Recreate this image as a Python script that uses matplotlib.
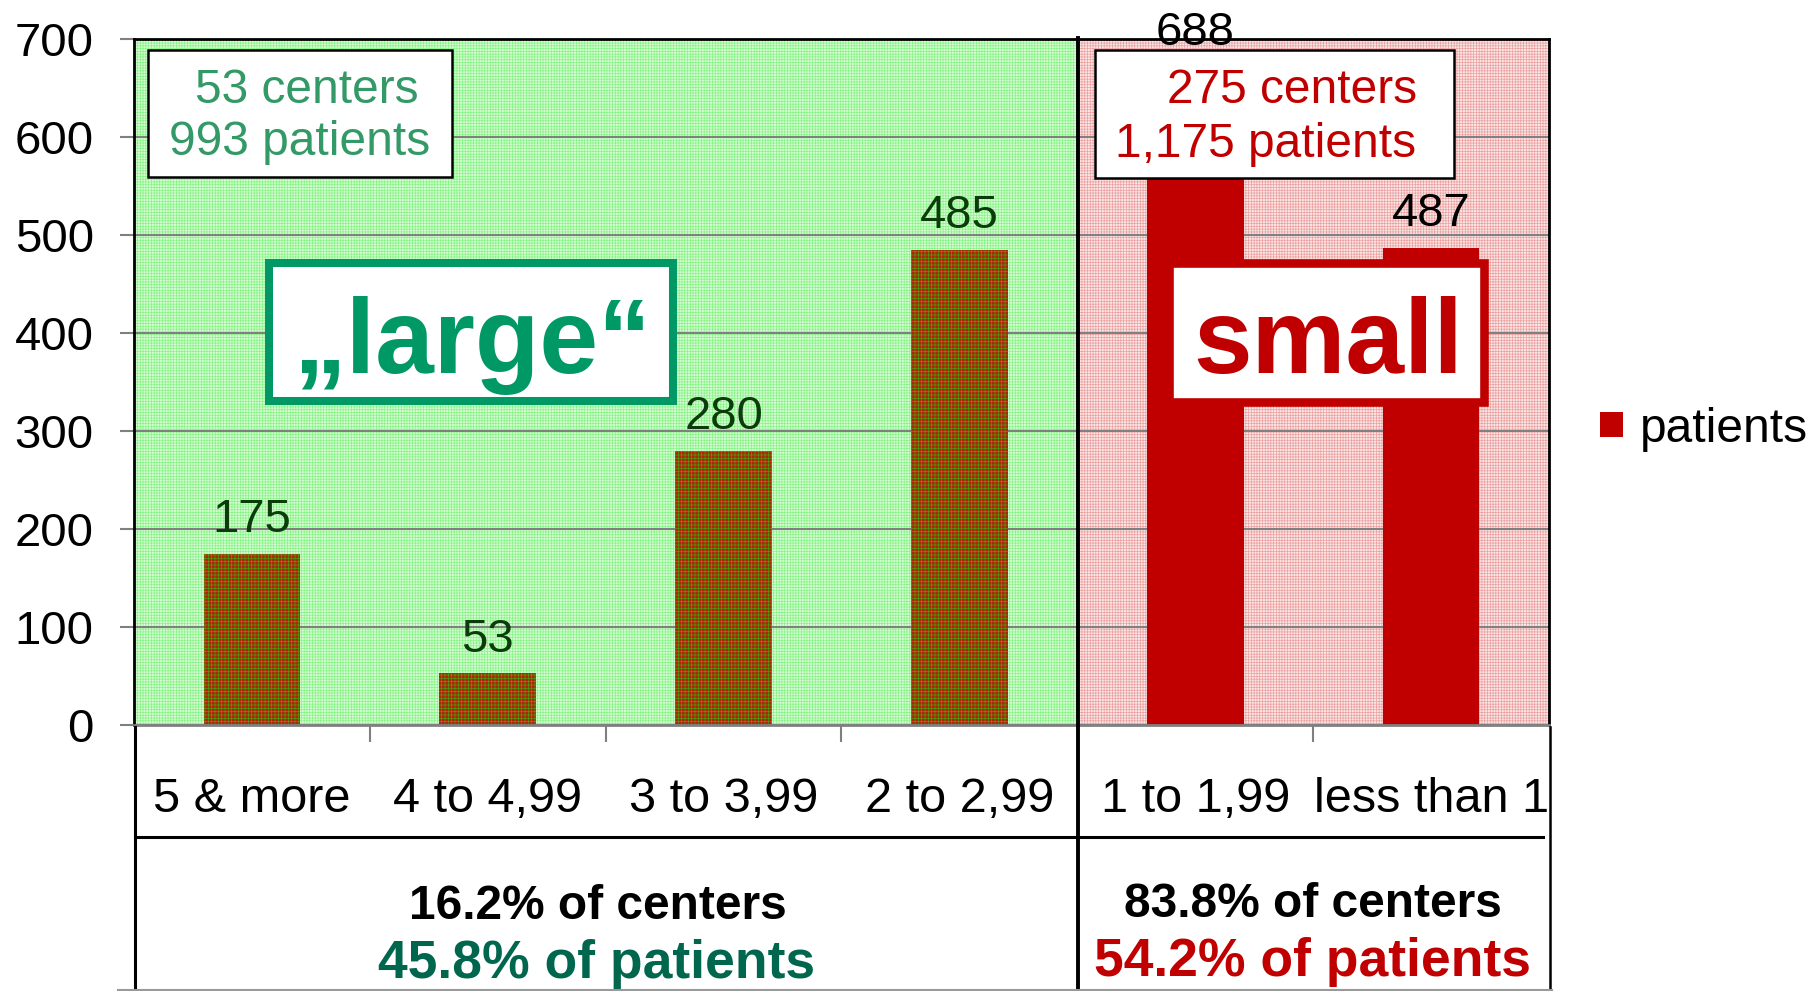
import matplotlib
matplotlib.use("Agg")
import matplotlib.pyplot as plt
from matplotlib.patches import Rectangle
from matplotlib.lines import Line2D
from matplotlib.transforms import blended_transform_factory

plt.rcParams["font.family"] = ["Liberation Sans", "DejaVu Sans"]
plt.rcParams["hatch.linewidth"] = 0.5

# data
categories = ["5 & more", "4 to 4,99", "3 to 3,99", "2 to 2,99", "1 to 1,99", "less than 1"]
patients = [175, 53, 280, 485, 688, 487]
large_info = ["53 centers", "993 patients"]
small_info = ["275 centers", "1,175 patients"]
large_share = ["16.2% of centers", "45.8% of patients"]
small_share = ["83.8% of centers", "54.2% of patients"]
n_large = 4

W, H = 1809, 991
GREEN_TXT = "#339966"
TEAL = "#009966"
RED = "#C00000"


def fx(x):
    return x / W


def fy(y):
    return 1 - y / H


fig = plt.figure(figsize=(W / 100, H / 100), dpi=100)
ax = fig.add_axes([fx(134), fy(725), (1549 - 134) / W, (725 - 39) / H])

# background regions
ax.axvspan(-0.5, n_large - 0.5, facecolor="#d6fdd2", edgecolor="#86f386",
           hatch="++++++", linewidth=0, zorder=0.1)
ax.axvspan(n_large - 0.5, len(categories) - 0.5, facecolor="#fbe6e6",
           edgecolor="#eca0a0", hatch="++++++", linewidth=0, zorder=0.1)

for i, v in enumerate(patients):
    if i < n_large:
        ax.bar(i, v, width=0.41, facecolor="#b22408", edgecolor="#4a9a0a",
               hatch="+++++", linewidth=0, zorder=2)
    else:
        ax.bar(i, v, width=0.41, color=RED, linewidth=0, zorder=2)
    ytxt = min(v + 22, 694)
    ax.text(i, ytxt, str(v), ha="center", va="baseline", fontsize=34,
            color="#0b3d0b" if i < n_large else "black", zorder=5, clip_on=False)

ax.set_xlim(-0.5, len(categories) - 0.5)
ax.set_ylim(0, 700)
ax.set_yticks(range(0, 701, 100))
ax.yaxis.grid(True, color="#808080", linewidth=1.5)
ax.set_axisbelow(True)
ax.tick_params(axis="y", length=10, width=1.5, color="#808080", pad=19, labelsize=34)
ax.set_xticks([])
ax.set_xticks([0.5, 1.5, 2.5, 4.5], minor=True)
ax.tick_params(axis="x", which="minor", length=12, width=1.5, color="#808080")
ax.tick_params(axis="x", which="major", length=0)

for s in ["top", "left", "right"]:
    ax.spines[s].set_color("black")
    ax.spines[s].set_linewidth(2)
ax.spines["bottom"].set_color("#808080")
ax.spines["bottom"].set_linewidth(2)

# category labels below the axis
tr = blended_transform_factory(ax.transData, fig.transFigure)
for i, c in enumerate(categories):
    ax.text(i, fy(812), c, transform=tr, ha="center", va="baseline", fontsize=35)

# table lines
def fline(x0, y0, x1, y1, color="black", lw=2.2):
    fig.add_artist(Line2D([fx(x0), fx(x1)], [fy(y0), fy(y1)], color=color, linewidth=lw))

fline(135, 727, 135, 991)
fline(1078, 38, 1078, 991, lw=2.8)
fline(1550, 727, 1550, 991, lw=1.8)
fline(135, 837, 1543, 837)
fline(118, 990, 1552, 990, color="#999999", lw=1.5)

# info boxes
def fbox(x0, y0, x1, y1, ec, lw):
    fig.add_artist(Rectangle((fx(x0), fy(y1)), fx(x1) - fx(x0), fy(y0) - fy(y1),
                             transform=fig.transFigure, facecolor="white",
                             edgecolor=ec, linewidth=lw, zorder=6))

fbox(148, 50, 452, 177, "black", 1.8)
fbox(1095, 50, 1454, 178, "black", 1.8)
fbox(269, 263, 673, 401, TEAL, 5.8)
fbox(1169, 263, 1484, 402, RED, 6.2)

fig.text(fx(307), fy(103), large_info[0], ha="center", va="baseline", fontsize=34.5, color=GREEN_TXT, zorder=7)
fig.text(fx(300), fy(155), large_info[1], ha="center", va="baseline", fontsize=34.5, color=GREEN_TXT, zorder=7)
fig.text(fx(1292), fy(103), small_info[0], ha="center", va="baseline", fontsize=34.5, color=RED, zorder=7)
fig.text(fx(1266), fy(157), small_info[1], ha="center", va="baseline", fontsize=34.5, color=RED, zorder=7)

fig.text(fx(472), fy(373), "\u201elarge\u201c", ha="center", va="baseline", fontsize=76,
         fontweight="bold", color=TEAL, zorder=7)
fig.text(fx(1328), fy(373), "small", ha="center", va="baseline", fontsize=76,
         fontweight="bold", color=RED, zorder=7)

# share texts
fig.text(fx(598), fy(919), large_share[0], ha="center", va="baseline", fontsize=34.5, fontweight="bold", color="black")
fig.text(fx(597), fy(978), large_share[1], ha="center", va="baseline", fontsize=38.5, fontweight="bold", color="#00664d")
fig.text(fx(1313), fy(917), small_share[0], ha="center", va="baseline", fontsize=34.5, fontweight="bold", color="black")
fig.text(fx(1313), fy(976), small_share[1], ha="center", va="baseline", fontsize=38.5, fontweight="bold", color=RED)

# legend
fig.add_artist(Rectangle((fx(1600), fy(437)), fx(1623) - fx(1600), fy(412) - fy(437),
                         transform=fig.transFigure, facecolor=RED, edgecolor="none"))
fig.text(fx(1640), fy(442), "patients", ha="left", va="baseline", fontsize=34.5)

fig.savefig("out.png", dpi=100)
